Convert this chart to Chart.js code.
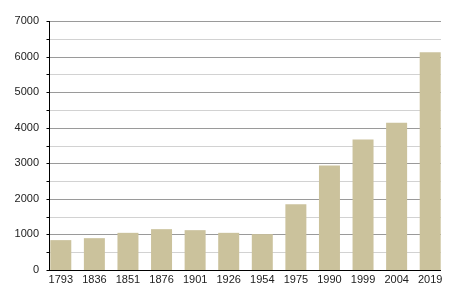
<!DOCTYPE html>
<html>
<head>
<meta charset="utf-8">
<script src="https://cdn.jsdelivr.net/npm/chart.js@4"></script>
<style>
  html, body { margin: 0; padding: 0; background: #fff; }
  #wrap { width: 450px; height: 300px; }
</style>
</head>
<body>
<div id="wrap"><canvas id="c"></canvas></div>
<script>
const years = ['1793', '1836', '1851', '1876', '1901', '1926', '1954', '1975', '1990', '1999', '2004', '2019'];
const population = [840, 895, 1045, 1148, 1120, 1045, 1008, 1849, 2941, 3669, 4140, 6120];
const yMax = 7000;
const yStep = 500;

// grid + axes are drawn by hand so they start at the first bar, like the original
const axesPlugin = {
    id: 'axesPlugin',
    beforeDatasetsDraw(chart) {
        const ctx = chart.ctx;
        const y = chart.scales.y;
        const bars = chart.getDatasetMeta(0).data;
        const x0 = Math.round(bars[0].x - bars[0].width / 2) - 0.5;
        const x1 = Math.round(bars[bars.length - 1].x + bars[bars.length - 1].width / 2);
        ctx.save();
        ctx.lineWidth = 1;
        y.ticks.forEach(t => {
            const py = Math.round(y.getPixelForValue(t.value)) + 0.5;
            if (t.value === 0) return;
            ctx.strokeStyle = t.value % 1000 === 0 ? '#9a9a9a' : '#d2d2d2';
            ctx.beginPath();
            ctx.moveTo(x0, py);
            ctx.lineTo(x1, py);
            ctx.stroke();
        });
        ctx.restore();
    },
    afterDatasetsDraw(chart) {
        const ctx = chart.ctx;
        const y = chart.scales.y;
        const bars = chart.getDatasetMeta(0).data;
        const x0 = Math.round(bars[0].x - bars[0].width / 2) - 0.5;
        const x1 = Math.round(bars[bars.length - 1].x + bars[bars.length - 1].width / 2);
        const top = Math.round(y.getPixelForValue(yMax));
        const bottom = Math.round(y.getPixelForValue(0)) + 0.5;
        ctx.save();
        ctx.strokeStyle = '#000';
        ctx.lineWidth = 1;
        ctx.beginPath();
        ctx.moveTo(x0, top);
        ctx.lineTo(x0, bottom + 0.5);
        ctx.stroke();
        y.ticks.forEach(t => {
            const py = Math.round(y.getPixelForValue(t.value)) + 0.5;
            ctx.beginPath();
            ctx.moveTo(x0 - 3, py);
            ctx.lineTo(x0, py);
            ctx.stroke();
        });
        ctx.beginPath();
        ctx.moveTo(x0, bottom);
        ctx.lineTo(x1, bottom);
        ctx.stroke();
        ctx.restore();
    }
};

new Chart(document.getElementById('c'), {
    type: 'bar',
    data: {
        labels: years,
        datasets: [{
            data: population,
            backgroundColor: '#cbc29c',
            borderWidth: 0,
            categoryPercentage: 1,
            barPercentage: 0.625
        }]
    },
    options: {
        responsive: true,
        maintainAspectRatio: false,
        animation: false,
        devicePixelRatio: 1,
        layout: { padding: { top: 21, right: 3, bottom: 0, left: 0 } },
        plugins: {
            legend: { display: false },
            tooltip: { enabled: false }
        },
        scales: {
            x: {
                grid: { display: false, drawTicks: false },
                border: { display: false },
                ticks: {
                    color: '#222',
                    font: { family: 'Liberation Sans', size: 11 },
                    padding: 3,
                    maxRotation: 0,
                    autoSkip: false
                },
                afterFit(scale) { scale.height = 30; }
            },
            y: {
                min: 0,
                max: yMax,
                grid: { display: false, drawTicks: false },
                border: { display: false },
                ticks: {
                    stepSize: yStep,
                    autoSkip: false,
                    color: '#222',
                    font: { family: 'Liberation Sans', size: 11 },
                    padding: 5,
                    callback: v => (v % 1000 === 0 ? v : '')
                },
                afterFit(scale) { scale.width = 44; }
            }
        }
    },
    plugins: [axesPlugin]
});
</script>
</body>
</html>
